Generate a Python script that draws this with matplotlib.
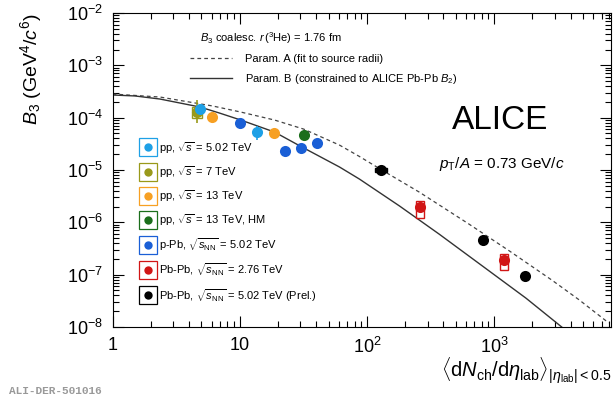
import numpy as np
import matplotlib.pyplot as plt
from matplotlib.patches import Rectangle
from matplotlib.legend_handler import HandlerTuple
from matplotlib.ticker import FixedLocator, FixedFormatter, LogLocator, NullFormatter

plt.rcParams['font.family'] = ['Liberation Sans', 'DejaVu Sans']
plt.rcParams['mathtext.fontset'] = 'custom'
plt.rcParams['mathtext.rm'] = 'Liberation Sans'
plt.rcParams['mathtext.it'] = 'Liberation Sans:italic'
plt.rcParams['mathtext.bf'] = 'Liberation Sans:bold'

# data
pp502_x = [4.87, 13.6]
pp502_y = [1.46e-4, 5.3e-5]
pp502_err = [1e-5, 1.6e-5]

pp7_x = [4.6]
pp7_y = [1.28e-4]
pp7_err_lo = [0.5e-4]
pp7_err_hi = [0.9e-4]
pp7_sys = [0.3e-4]

pp13_x = [6.0, 18.5]
pp13_y = [1.02e-4, 5.1e-5]

pp13hm_x = [31.8]
pp13hm_y = [4.65e-5]

ppb_x = [10.1, 22.9, 30.2, 40.2]
ppb_y = [7.9e-5, 2.3e-5, 2.6e-5, 3.27e-5]

pbpb276_x = [263, 1200]
pbpb276_y = [1.95e-6, 1.9e-7]
pbpb276_sys_c = [1.9e-6, 1.85e-7]
pbpb276_sys = [0.7e-6, 0.6e-7]

pbpb502_x = [130, 819, 1750]
pbpb502_y = [9.95e-6, 4.57e-7, 9.3e-8]
pbpb502_sys = [0.9e-6, 0.2e-7, 0.4e-8]
pbpb502_sysx = [15, 40, 80]

# coalescence curves
paramA_x = [1, 2.36, 6.14, 10.2, 18.8, 31.8, 60.9, 87.4, 130, 258, 637, 1313, 2850, 4640, 7950]
paramA_y = [2.83e-4, 2.48e-4, 1.67e-4, 1.28e-4, 9.0e-5, 6.05e-5, 2.99e-5, 1.81e-5, 1.01e-5,
            3.78e-6, 9.2e-7, 2.86e-7, 7.85e-8, 3.33e-8, 1.2e-8]
paramB_x = [1, 1.5, 2.36, 4.86, 6.97, 10.2, 18.8, 29.6, 60.9, 87.4, 180, 370, 820, 1780, 3400]
paramB_y = [2.71e-4, 2.6e-4, 2.27e-4, 1.6e-4, 1.22e-4, 9.0e-5, 5.3e-5, 2.9e-5, 1.14e-5, 6.7e-6,
            2.06e-6, 5.95e-7, 1.43e-7, 3.56e-8, 1.0e-8]

c_pp502 = '#1ea0e6'
c_pp7 = '#99991a'
c_pp13 = '#f7a023'
c_hm = '#1b6e1b'
c_ppb = '#1a5fd6'
c_276 = '#d11616'
c_502 = '#000000'

fig = plt.figure(figsize=(6.15, 4.0), dpi=100)
ax = fig.add_axes([0.183, 0.1825, 0.8105, 0.785])

lA, = ax.plot(paramA_x, paramA_y, '--', color='#444444', lw=0.9, dashes=(3, 2.5))
lB, = ax.plot(paramB_x, paramB_y, '-', color='#333333', lw=1.0)

ms = 8
# systematic boxes
ax.add_patch(Rectangle((pp7_x[0] * 0.92, pp7_y[0] - pp7_sys[0]), pp7_x[0] * 0.17, 2 * pp7_sys[0],
                       fill=False, ec=c_pp7, lw=1.0, zorder=3))
for xx, yy, ss in zip(pbpb276_x, pbpb276_sys_c, pbpb276_sys):
    ax.add_patch(Rectangle((xx * 0.93, yy - ss), xx * 0.145, 2 * ss, fill=False, ec=c_276, lw=1.0, zorder=3))
for xx, yy, ss, sx in zip(pbpb502_x, pbpb502_y, pbpb502_sys, pbpb502_sysx):
    ax.add_patch(Rectangle((xx - sx, yy - ss), 2 * sx, 2 * ss, fill=False, ec=c_502, lw=1.0, zorder=3))

ax.errorbar(pp7_x, pp7_y, yerr=[pp7_err_lo, pp7_err_hi], fmt='o', color=c_pp7, ms=ms, mew=0, elinewidth=1.2, zorder=4)
ax.errorbar(pp502_x, pp502_y, yerr=pp502_err, fmt='o', color=c_pp502, ms=ms, mew=0, elinewidth=1.2, zorder=4)
ax.plot(pp13_x, pp13_y, 'o', color=c_pp13, ms=ms, mew=0, zorder=4)
ax.plot(pp13hm_x, pp13hm_y, 'o', color=c_hm, ms=ms, mew=0, zorder=4)
ax.plot(ppb_x, ppb_y, 'o', color=c_ppb, ms=ms, mew=0, zorder=4)
ax.plot(pbpb276_x, pbpb276_y, 'o', color=c_276, ms=ms, mew=0, zorder=4)
ax.plot(pbpb502_x, pbpb502_y, 'o', color=c_502, ms=ms, mew=0, zorder=4)

ax.set_xscale('log')
ax.set_yscale('log')
ax.set_xlim(1, 8300)
ax.set_ylim(1e-8, 1e-2)

xt = [1, 10, 100, 1000]
xt_labels = ['1', '10', r'$10^2$', r'$10^3$']
ax.xaxis.set_major_locator(FixedLocator(xt))
ax.xaxis.set_major_formatter(FixedFormatter(xt_labels))
ax.xaxis.set_minor_locator(LogLocator(base=10, subs=np.arange(2, 10)))
ax.xaxis.set_minor_formatter(NullFormatter())
yt = [1e-8, 1e-7, 1e-6, 1e-5, 1e-4, 1e-3, 1e-2]
yt_labels = [r'$10^{-8}$', r'$10^{-7}$', r'$10^{-6}$', r'$10^{-5}$', r'$10^{-4}$', r'$10^{-3}$', r'$10^{-2}$']
ax.yaxis.set_major_locator(FixedLocator(yt))
ax.yaxis.set_major_formatter(FixedFormatter(yt_labels))
ax.yaxis.set_minor_locator(LogLocator(base=10, subs=np.arange(2, 10)))
ax.yaxis.set_minor_formatter(NullFormatter())
ax.tick_params(which='both', direction='in', top=True, right=True, labelsize=13, width=0.8)
ax.tick_params(which='major', length=8, pad=7)
ax.tick_params(which='minor', length=4)
for s in ax.spines.values():
    s.set_linewidth(0.8)

ax.set_ylabel(r'$B_3$ (GeV$^4$/$c^6$)', fontsize=14, loc='top', labelpad=16)
ax.set_xlabel(r'$\langle$d$N_{\mathrm{ch}}$/d$\eta_{\mathrm{lab}}\rangle_{|\eta_{\mathrm{lab}}|<0.5}$',
              fontsize=14.5, loc='right', labelpad=-1)

# data legend: open box + filled circle
colors = [c_pp502, c_pp7, c_pp13, c_hm, c_ppb, c_276, c_502]
h = [(plt.Line2D([], [], ls='', marker='s', mfc='none', mec=c, ms=13.5, mew=0.9),
      plt.Line2D([], [], ls='', marker='o', color=c, ms=6, mew=0)) for c in colors]
labels = [r'pp, $\sqrt{s}$ = 5.02 TeV', r'pp, $\sqrt{s}$ = 7 TeV', r'pp, $\sqrt{s}$ = 13 TeV',
          r'pp, $\sqrt{s}$ = 13 TeV, HM', r'p-Pb, $\sqrt{s_{\mathrm{NN}}}$ = 5.02 TeV',
          r'Pb-Pb, $\sqrt{s_{\mathrm{NN}}}$ = 2.76 TeV', r'Pb-Pb, $\sqrt{s_{\mathrm{NN}}}$ = 5.02 TeV (Prel.)']
leg1 = ax.legend(h, labels, handler_map={tuple: HandlerTuple(ndivide=1)}, loc='upper left',
                 bbox_to_anchor=(0.057, 0.595), frameon=False, fontsize=8, handlelength=1.2,
                 handleheight=1.0, labelspacing=0.76, handletextpad=0.45, borderpad=0, borderaxespad=0)
ax.add_artist(leg1)

ax.text(0.1755, 0.92, r'$B_3$ coalesc. $r\,(^3$He$)$ = 1.76 fm', transform=ax.transAxes, fontsize=8, va='center')
leg2 = ax.legend([lA, lB], ['Param. A (fit to source radii)', r'Param. B (constrained to ALICE Pb-Pb $B_2$)'],
                 loc='upper left', bbox_to_anchor=(0.1555, 0.87), frameon=False, fontsize=8,
                 handlelength=3.8, handletextpad=1.15, borderpad=0, borderaxespad=0, labelspacing=0.7)

ax.text(0.68, 0.63, 'ALICE', transform=ax.transAxes, fontsize=24)
ax.text(0.655, 0.505, r'$p_{\mathrm{T}}/A$ = 0.73 GeV/$c$', transform=ax.transAxes, fontsize=11)

fig.text(0.015, 0.015, 'ALI-DER-501016', fontsize=8, color='#999999', family='Liberation Mono', weight='bold')

fig.savefig('out.png', dpi=100)
